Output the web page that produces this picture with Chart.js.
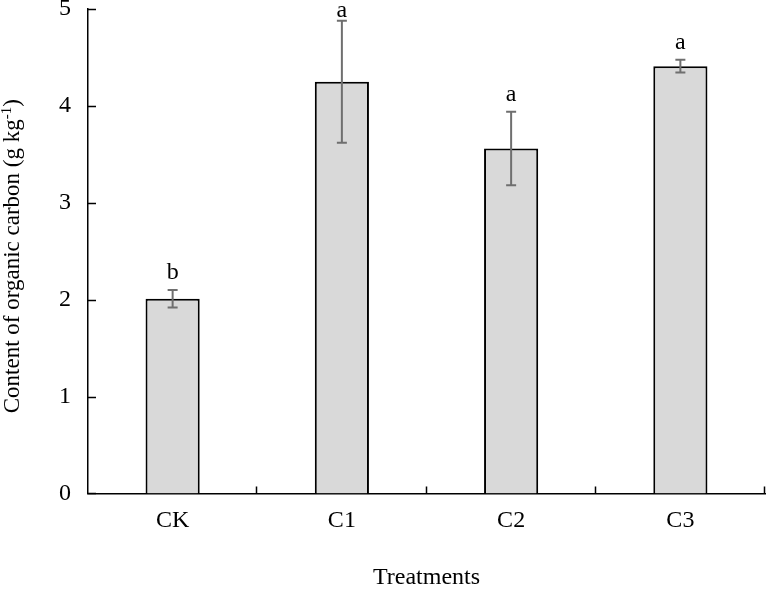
<!DOCTYPE html>
<html>
<head>
<meta charset="utf-8">
<script src="https://cdn.jsdelivr.net/npm/chart.js@4/dist/chart.umd.min.js"></script>
<style>
    html, body { margin: 0; padding: 0; background: #fff; }
    #wrap { width: 766px; height: 589px; }
</style>
</head>
<body>
<div id="wrap"><canvas id="myChart"></canvas></div>
<script>
    "use strict";

    // values
    const treatments = ['CK', 'C1', 'C2', 'C3'];
    const carbon = [2.01, 4.25, 3.56, 4.41];
    const carbonErr = [0.09, 0.63, 0.38, 0.065];
    const sigLetters = ['b', 'a', 'a', 'a'];
    const yTicks = [0, 1, 2, 3, 4, 5];

    const serif = '"Liberation Serif", "Times New Roman", serif';

    // error bars + letters above them
    const errorBars = {
        id: 'errorBars',
        afterDatasetsDraw(chart) {
            const ctx = chart.ctx;
            const meta = chart.getDatasetMeta(0);
            const y = chart.scales.y;
            ctx.save();
            meta.data.forEach((bar, i) => {
                const top = y.getPixelForValue(carbon[i] + carbonErr[i]);
                const bot = y.getPixelForValue(carbon[i] - carbonErr[i]);
                ctx.strokeStyle = '#6f6f6f';
                ctx.lineWidth = 2;
                ctx.beginPath();
                ctx.moveTo(bar.x, top);
                ctx.lineTo(bar.x, bot);
                ctx.moveTo(bar.x - 5, top);
                ctx.lineTo(bar.x + 5, top);
                ctx.moveTo(bar.x - 5, bot);
                ctx.lineTo(bar.x + 5, bot);
                ctx.stroke();

                ctx.fillStyle = '#000';
                ctx.font = '24px ' + serif;
                ctx.textAlign = 'center';
                ctx.textBaseline = 'alphabetic';
                ctx.fillText(sigLetters[i], bar.x, Math.max(top - 11, 17));
            });
            ctx.restore();
        }
    };

    // inward tick marks and the y title with a superscript
    const axisDecor = {
        id: 'axisDecor',
        afterDraw(chart) {
            const ctx = chart.ctx;
            const x = chart.scales.x, y = chart.scales.y;
            const area = chart.chartArea;
            ctx.save();
            ctx.strokeStyle = '#000';
            ctx.lineWidth = 1.5;
            ctx.beginPath();
            yTicks.forEach(v => {
                const py = Math.round(y.getPixelForValue(v)) + 0.5;
                ctx.moveTo(area.left, py);
                ctx.lineTo(area.left + 8, py);
            });
            for (let i = 1; i <= treatments.length; i++) {
                const px = Math.round(x.getPixelForValue(i - 0.5)) - 0.5;
                ctx.moveTo(px, area.bottom);
                ctx.lineTo(px, area.bottom - 7);
            }
            ctx.stroke();

            const main = 'Content of organic carbon (g kg';
            const sup = '-1';
            const tail = ')';
            ctx.fillStyle = '#000';
            ctx.textBaseline = 'alphabetic';
            ctx.textAlign = 'left';
            ctx.font = '23px ' + serif;
            const w1 = ctx.measureText(main).width;
            const w3 = ctx.measureText(tail).width;
            ctx.font = '15px ' + serif;
            const w2 = ctx.measureText(sup).width;
            const total = w1 + w2 + w3;
            ctx.translate(19, (area.top + area.bottom) / 2 + 5);
            ctx.rotate(-Math.PI / 2);
            let cx = -total / 2;
            ctx.font = '23px ' + serif;
            ctx.fillText(main, cx, 0);
            cx += w1;
            ctx.font = '15px ' + serif;
            ctx.fillText(sup, cx, -8);
            cx += w2;
            ctx.font = '23px ' + serif;
            ctx.fillText(tail, cx, 0);
            ctx.restore();
        }
    };

    function initChart() {
        const ctx = document.getElementById('myChart').getContext('2d');
        return new Chart(ctx, {
            type: 'bar',
            data: {
                labels: treatments,
                datasets: [{
                    label: 'Organic carbon',
                    data: carbon,
                    backgroundColor: '#d9d9d9',
                    borderColor: '#000',
                    borderWidth: 2,
                    barPercentage: 0.32,
                    categoryPercentage: 1
                }]
            },
            options: {
                responsive: true,
                maintainAspectRatio: false,
                animation: false,
                layout: { padding: { left: 42, right: 1, top: 0, bottom: -3 } },
                plugins: {
                    legend: { display: false },
                    tooltip: { enabled: false }
                },
                scales: {
                    x: {
                        offset: true,
                        grid: { display: false, drawTicks: false },
                        border: { color: '#000', width: 1.5 },
                        ticks: {
                            color: '#000',
                            padding: 13,
                            font: { family: serif, size: 24 }
                        },
                        title: {
                            display: true,
                            text: 'Treatments',
                            color: '#000',
                            padding: { top: 15, bottom: 0 },
                            font: { family: serif, size: 24 }
                        }
                    },
                    y: {
                        min: 0,
                        max: 5,
                        grid: { display: false, drawTicks: false },
                        border: { color: '#000', width: 1.5 },
                        afterBuildTicks(scale) {
                            scale.ticks = yTicks.map(v => ({ value: v }));
                        },
                        afterFit(scale) {
                            scale.paddingTop = 9;
                        },
                        ticks: {
                            color: '#000',
                            padding: 17,
                            font: { family: serif, size: 24 }
                        }
                    }
                }
            },
            plugins: [errorBars, axisDecor]
        });
    }

    initChart();
</script>
</body>
</html>
